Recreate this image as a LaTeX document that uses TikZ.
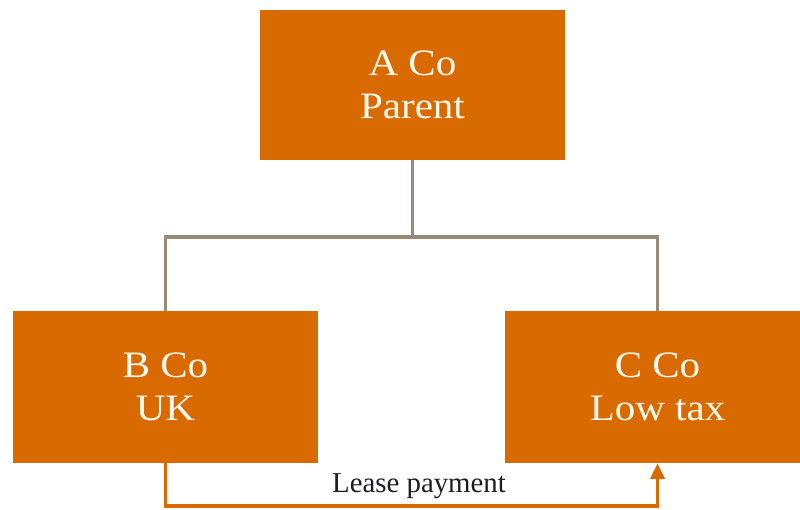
\documentclass[tikz,border=0pt]{standalone}
\usepackage{fontspec}
\setmainfont{Liberation Serif}
\newfontfamily\boxfont[FakeStretch=1.1]{Liberation Serif}
\usetikzlibrary{arrows.meta}
\definecolor{coorange}{RGB}{217,106,0}
\definecolor{linkgray}{RGB}{150,140,118}
\definecolor{labelink}{RGB}{28,28,40}
\begin{document}
\begin{tikzpicture}[x=0.025cm,y=-0.025cm,
    company/.style={fill=coorange, text={rgb,255:red,255;green,250;blue,240}, inner sep=0pt,
      minimum width=7.625cm, minimum height=3.8cm, align=center,
      font=\boxfont\fontsize{26.5}{30.6}\selectfont},
    ownership/.style={linkgray, line width=2.2pt},
    payment/.style={coorange, line width=2.2pt},
    leaselabel/.style={text=labelink, inner sep=1pt, font=\fontsize{20.5}{24}\selectfont}]
    \useasboundingbox (0,0) rectangle (800,509);
    % Companies
    \node[company, minimum height=3.75cm] (aco) at (412.5,85) {A Co\\Parent};
    \node[company] (bco) at (165.5,387) {B Co\\UK};
    \node[company] (cco) at (657.5,387) {C Co\\Low tax};
    % Ownership
    \coordinate (split) at (412.5,237);
    \draw[ownership] (aco.south) -- (split) -| (bco.north);
    \draw[ownership] (split) -| (cco.north);
    % Lease payment
    \coordinate (leasebase) at (412.5,506);
    \draw[payment, -{Triangle[length=11pt,width=10pt]}] (bco.south) |- (leasebase) -| (cco.south);
    \node[leaselabel] (lease) at (419,486) {Lease payment};
\end{tikzpicture}
\end{document}
